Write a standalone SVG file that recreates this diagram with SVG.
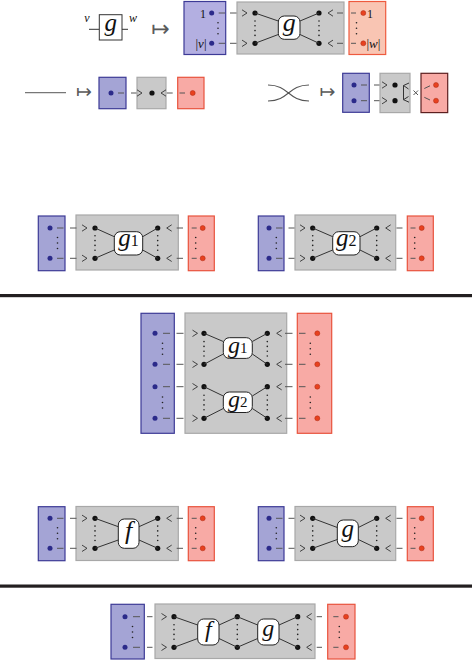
<svg xmlns="http://www.w3.org/2000/svg" xmlns:xlink="http://www.w3.org/1999/xlink" width="472" height="660" viewBox="0 0 472 660">
<style>
.bl{fill:#a4a4d5;stroke:#3c3a96;stroke-width:1.2}
.gr{fill:#c9c9c9;stroke:#a8a8a8;stroke-width:1.2}
.rd{fill:#f8aaa5;stroke:#e8533c;stroke-width:1.2}
.nd{fill:#fff;stroke:#222;stroke-width:1}
.w{fill:none;stroke:#555;stroke-width:1}
.ln{fill:none;stroke:#333;stroke-width:1}
.lb{font-family:"Liberation Serif","DejaVu Serif",serif;font-style:italic;fill:#111}
.rm{font-family:"Liberation Serif","DejaVu Serif",serif;fill:#111}
.mp{font-family:"DejaVu Sans",sans-serif;fill:#5a5a5a}
</style>
<defs>
<circle id="kd" r="2.6" fill="#111"/>
<circle id="bd" r="2.5" fill="#2b2a8a"/>
<circle id="od" r="2.5" fill="#e8411f" stroke="#a82a14" stroke-width="0.5"/>
<path id="cr" d="M-5,-3.2L0,0L-5,3.2" fill="none" stroke="#333" stroke-width="0.9"/>
<path id="cl" d="M5,-3.2L0,0L5,3.2" fill="none" stroke="#333" stroke-width="0.9"/>
<g id="v3" fill="#222"><circle cy="-5.5" r="0.8"/><circle r="0.8"/><circle cy="5.5" r="0.8"/></g>
<g id="v4" fill="#222"><circle cy="-7.2" r="0.8"/><circle cy="-2.4" r="0.8"/><circle cy="2.4" r="0.8"/><circle cy="7.2" r="0.8"/></g>
</defs>

<!-- horizontal rules -->
<rect x="0" y="294" width="472" height="3.2" fill="#231f20"/>
<rect x="0" y="584.5" width="472" height="3.2" fill="#231f20"/>

<!-- ===== Row 1: g : v -> w ===== -->
<g id="A-src">
<path class="ln" d="M89,29.3H99.3M122,29.3H128"/>
<rect x="99.3" y="14.7" width="22.7" height="25.3" fill="#fff" stroke="#333" stroke-width="1"/>
<text class="lb" x="110.7" y="31" text-anchor="middle" font-size="25">g</text>
<text class="lb" x="87" y="22" text-anchor="middle" font-size="12">v</text>
<text class="lb" x="133" y="22" text-anchor="middle" font-size="12">w</text>
</g>
<text class="mp" x="160.5" y="35.5" text-anchor="middle" font-size="22">↦</text>
<g id="A-blue">
<rect x="184" y="1.5" width="41.7" height="53" fill="#b3afe1" stroke="#3c3a96" stroke-width="1.2"/>
<text class="rm" x="206" y="17.5" text-anchor="end" font-size="12">1</text>
<text class="rm" x="206.5" y="47.5" text-anchor="end" font-size="13">|<tspan font-style="italic">v</tspan>|</text>
<use xlink:href="#bd" x="211.7" y="13"/><use xlink:href="#bd" x="211.7" y="43.3"/>
<use xlink:href="#v3" x="218" y="28.2"/>
</g>
<g id="A-gray">
<rect class="gr" x="237" y="2" width="107" height="52"/>
<use xlink:href="#kd" x="255" y="13"/><use xlink:href="#kd" x="255" y="43.3"/>
<use xlink:href="#v4" x="255" y="28.2"/>
<use xlink:href="#kd" x="319" y="13"/><use xlink:href="#kd" x="319" y="43.3"/>
<use xlink:href="#v4" x="319" y="28.2"/>
</g>
<g id="A-g">
<rect class="nd" x="278.3" y="16" width="21.7" height="23.3" rx="6"/>
<text class="lb" x="289.2" y="30.5" text-anchor="middle" font-size="26">g</text>
</g>
<g id="A-red">
<rect x="349" y="1.5" width="36.7" height="53" fill="#f9c5b3" stroke="#ee5a3e" stroke-width="1.2"/>
<use xlink:href="#od" x="363.3" y="13"/><use xlink:href="#od" x="363.3" y="43.3"/>
<use xlink:href="#v3" x="356.5" y="28.2"/>
<text class="rm" x="367" y="17.5" font-size="12">1</text>
<text class="rm" x="366.5" y="47.5" font-size="13">|<tspan font-style="italic">w</tspan>|</text>
</g>

<!-- ===== Row 2 left: identity wire ===== -->
<g id="B-wire"><path d="M25,92.7H66" fill="none" stroke="#777" stroke-width="1.3"/></g>
<text class="mp" x="84" y="98.2" text-anchor="middle" font-size="19">↦</text>
<g id="B-blue">
<rect class="bl" x="99" y="77.3" width="27" height="31.4"/>
<use xlink:href="#bd" x="111" y="93"/>
</g>
<g id="B-gray">
<rect class="gr" x="137" y="77.3" width="29" height="31.4"/>
<use xlink:href="#kd" x="152" y="93"/>
</g>
<g id="B-red">
<rect class="rd" x="177.7" y="77.3" width="26.3" height="31.4"/>
<use xlink:href="#od" x="192.7" y="93"/>
</g>

<!-- ===== Row 2 right: swap ===== -->
<g id="C-swap"><path d="M268,85C289,85 288,101 309,101M268,101C289,101 288,85 309,85" fill="none" stroke="#555" stroke-width="1.1"/></g>
<text class="mp" x="327.5" y="97.5" text-anchor="middle" font-size="19">↦</text>
<g id="C-blue">
<rect class="bl" x="342.7" y="73.3" width="26.6" height="39"/>
<use xlink:href="#bd" x="354" y="85"/><use xlink:href="#bd" x="354" y="100.7"/>
</g>
<g id="C-gray">
<rect class="gr" x="380" y="73.3" width="30" height="39.3"/>
<use xlink:href="#kd" x="395" y="85"/><use xlink:href="#kd" x="395" y="100.7"/>
</g>
<g id="C-red">
<rect x="421" y="73.3" width="26.7" height="39.3" fill="#f8aaa5" stroke="#5c1f1f" stroke-width="1.2"/>
<use xlink:href="#od" x="436" y="85"/><use xlink:href="#od" x="436" y="100.7"/>
</g>

<!-- ===== Row 3: g1 and g2 ===== -->
<g id="D1-blue">
<rect class="bl" x="38.3" y="216" width="26.7" height="54.7"/>
<use xlink:href="#bd" x="50" y="228"/><use xlink:href="#bd" x="50" y="258.3"/>
<use xlink:href="#v3" x="57.5" y="243"/>
</g>
<g id="D1-gray">
<rect class="gr" x="76" y="215" width="102.3" height="55"/>
<use xlink:href="#kd" x="95" y="228"/><use xlink:href="#kd" x="95" y="258.3"/>
<use xlink:href="#v4" x="95" y="243"/>
<use xlink:href="#kd" x="157.7" y="228"/><use xlink:href="#kd" x="157.7" y="258.3"/>
<use xlink:href="#v4" x="157.7" y="243"/>
</g>
<g id="D1-g1">
<rect class="nd" x="114.3" y="231.7" width="28.4" height="23.3" rx="6"/>
<text class="lb" x="128.5" y="246" text-anchor="middle" font-size="25">g<tspan font-style="normal" font-size="16">1</tspan></text>
</g>
<g id="D1-red">
<rect class="rd" x="188.3" y="216" width="26" height="54.7"/>
<use xlink:href="#od" x="202.7" y="228"/><use xlink:href="#od" x="202.7" y="258.3"/>
<use xlink:href="#v3" x="195.7" y="243"/>
</g>

<g id="D2-blue">
<rect class="bl" x="258.3" y="216" width="25.7" height="54.7"/>
<use xlink:href="#bd" x="269" y="228"/><use xlink:href="#bd" x="269" y="258.3"/>
<use xlink:href="#v3" x="276.3" y="243"/>
</g>
<g id="D2-gray">
<rect class="gr" x="295" y="215" width="100.7" height="55"/>
<use xlink:href="#kd" x="312.7" y="228"/><use xlink:href="#kd" x="312.7" y="258.3"/>
<use xlink:href="#v4" x="312.7" y="243"/>
<use xlink:href="#kd" x="376.7" y="228"/><use xlink:href="#kd" x="376.7" y="258.3"/>
<use xlink:href="#v4" x="376.7" y="243"/>
</g>
<g id="D2-g2">
<rect class="nd" x="332.7" y="231.7" width="27.3" height="23.3" rx="6"/>
<text class="lb" x="346.3" y="246" text-anchor="middle" font-size="25">g<tspan font-style="normal" font-size="16">2</tspan></text>
</g>
<g id="D2-red">
<rect class="rd" x="407.3" y="216" width="26" height="54.7"/>
<use xlink:href="#od" x="421.7" y="228"/><use xlink:href="#od" x="421.7" y="258.3"/>
<use xlink:href="#v3" x="414.7" y="243"/>
</g>

<!-- ===== Middle: tensor g1 g2 ===== -->
<g id="E-blue">
<rect class="bl" x="141" y="313.3" width="33.3" height="120"/>
<use xlink:href="#bd" x="155" y="333.3"/><use xlink:href="#bd" x="155" y="364.3"/>
<use xlink:href="#bd" x="155" y="386.7"/><use xlink:href="#bd" x="155" y="418.3"/>
<use xlink:href="#v3" x="162.5" y="348.8"/><use xlink:href="#v3" x="162.5" y="402.5"/>
</g>
<g id="E-gray">
<rect class="gr" x="185" y="313" width="101.7" height="120.3"/>
<use xlink:href="#kd" x="204" y="333.3"/><use xlink:href="#kd" x="204" y="364.3"/>
<use xlink:href="#kd" x="204" y="386.7"/><use xlink:href="#kd" x="204" y="418.3"/>
<use xlink:href="#v4" x="204" y="348.8"/><use xlink:href="#v4" x="204" y="402.5"/>
<use xlink:href="#kd" x="267.3" y="333.3"/><use xlink:href="#kd" x="267.3" y="364.3"/>
<use xlink:href="#kd" x="267.3" y="386.7"/><use xlink:href="#kd" x="267.3" y="418.3"/>
<use xlink:href="#v4" x="267.3" y="348.8"/><use xlink:href="#v4" x="267.3" y="402.5"/>
</g>
<g id="E-g1">
<rect class="nd" x="223.3" y="337.7" width="29" height="20.7" rx="6"/>
<text class="lb" x="237.8" y="352.5" text-anchor="middle" font-size="24">g<tspan font-style="normal" font-size="15">1</tspan></text>
</g>
<g id="E-g2">
<rect class="nd" x="223.3" y="392" width="29" height="20.5" rx="6"/>
<text class="lb" x="237.8" y="406.5" text-anchor="middle" font-size="24">g<tspan font-style="normal" font-size="15">2</tspan></text>
</g>
<g id="E-red">
<rect class="rd" x="297.3" y="313.3" width="34.4" height="120"/>
<use xlink:href="#od" x="317.3" y="333.3"/><use xlink:href="#od" x="317.3" y="364.3"/>
<use xlink:href="#od" x="317.3" y="386.7"/><use xlink:href="#od" x="317.3" y="418.3"/>
<use xlink:href="#v3" x="310.3" y="348.8"/><use xlink:href="#v3" x="310.3" y="402.5"/>
</g>

<!-- ===== Row 4: f and g ===== -->
<g id="F1-blue">
<rect class="bl" x="38.3" y="506.7" width="26.7" height="54"/>
<use xlink:href="#bd" x="50" y="518.3"/><use xlink:href="#bd" x="50" y="548.3"/>
<use xlink:href="#v3" x="57.5" y="533.3"/>
</g>
<g id="F1-gray">
<rect class="gr" x="76" y="506.5" width="102.3" height="54"/>
<use xlink:href="#kd" x="95" y="518.3"/><use xlink:href="#kd" x="95" y="548.3"/>
<use xlink:href="#v4" x="95" y="533.3"/>
<use xlink:href="#kd" x="157.7" y="518.3"/><use xlink:href="#kd" x="157.7" y="548.3"/>
<use xlink:href="#v4" x="157.7" y="533.3"/>
</g>
<g id="F1-f">
<rect class="nd" x="118.3" y="519" width="20.7" height="29.3" rx="6"/>
<text class="lb" x="128.7" y="538.5" text-anchor="middle" font-size="26">f</text>
</g>
<g id="F1-red">
<rect class="rd" x="188.3" y="506.7" width="26" height="54"/>
<use xlink:href="#od" x="202.7" y="518.3"/><use xlink:href="#od" x="202.7" y="548.3"/>
<use xlink:href="#v3" x="195.7" y="533.3"/>
</g>

<g id="F2-blue">
<rect class="bl" x="258.3" y="506.7" width="25.7" height="54"/>
<use xlink:href="#bd" x="269" y="518.3"/><use xlink:href="#bd" x="269" y="548.3"/>
<use xlink:href="#v3" x="276.3" y="533.3"/>
</g>
<g id="F2-gray">
<rect class="gr" x="295" y="506.5" width="100.7" height="54"/>
<use xlink:href="#kd" x="312.7" y="518.3"/><use xlink:href="#kd" x="312.7" y="548.3"/>
<use xlink:href="#v4" x="312.7" y="533.3"/>
<use xlink:href="#kd" x="376.7" y="518.3"/><use xlink:href="#kd" x="376.7" y="548.3"/>
<use xlink:href="#v4" x="376.7" y="533.3"/>
</g>
<g id="F2-g">
<rect class="nd" x="337.3" y="520" width="21" height="26.7" rx="6"/>
<text class="lb" x="347.8" y="536.5" text-anchor="middle" font-size="25">g</text>
</g>
<g id="F2-red">
<rect class="rd" x="407.3" y="506.7" width="26" height="54"/>
<use xlink:href="#od" x="421.7" y="518.3"/><use xlink:href="#od" x="421.7" y="548.3"/>
<use xlink:href="#v3" x="414.7" y="533.3"/>
</g>

<!-- ===== Bottom: composite f;g ===== -->
<g id="G-blue">
<rect class="bl" x="111" y="604.3" width="33.3" height="54.7"/>
<use xlink:href="#bd" x="125" y="616.7"/><use xlink:href="#bd" x="125" y="647.3"/>
<use xlink:href="#v3" x="132.5" y="632"/>
</g>
<g id="G-gray">
<rect class="gr" x="155" y="604" width="160" height="54.5"/>
<use xlink:href="#kd" x="174" y="616.7"/><use xlink:href="#kd" x="174" y="647.3"/>
<use xlink:href="#v4" x="174" y="632"/>
<use xlink:href="#kd" x="237.3" y="616.7"/><use xlink:href="#kd" x="237.3" y="647.3"/>
<use xlink:href="#v4" x="237.3" y="632"/>
<use xlink:href="#kd" x="297.7" y="616.7"/><use xlink:href="#kd" x="297.7" y="647.3"/>
<use xlink:href="#v4" x="297.7" y="632"/>
</g>
<g id="G-f">
<rect class="nd" x="197.7" y="619" width="21.3" height="26" rx="6"/>
<text class="lb" x="208.3" y="637" text-anchor="middle" font-size="24">f</text>
</g>
<g id="G-g">
<rect class="nd" x="257.7" y="619" width="21.3" height="26" rx="6"/>
<text class="lb" x="268.3" y="635.5" text-anchor="middle" font-size="24">g</text>
</g>
<g id="G-red">
<rect class="rd" x="327.7" y="604.3" width="27.3" height="54.7"/>
<use xlink:href="#od" x="346" y="616.7"/><use xlink:href="#od" x="346" y="647.3"/>
<use xlink:href="#v3" x="339.3" y="632"/>
</g>

<!-- ===== Connectors ===== -->
<g id="connectors">
<path class="w" d="
M218.7,13H225M218.7,43.3H225M230,13H236.5M230,43.3H236.5M337,13H343M337,43.3H343M351,13H356M351,43.3H356
M118,93H124M131,93H136.5M166.7,93H172.7M179.5,93H185
M361,85H367M361,100.7H367M374,85H379.5M374,100.7H379.5
M424.3,88.5L430,85.8M424.3,97.3L430,100M413.5,90.5L418,95M418,90.5L413.5,95
M57,228H63.5M57,258.3H63.5M70,228H76.5M70,258.3H76.5M176.7,228H183M176.7,258.3H183M191.7,228H196.7M191.7,258.3H196.7
M276,228H282.5M276,258.3H282.5M288.5,228H294.5M288.5,258.3H294.5M396.5,228H402.5M396.5,258.3H402.5M410.5,228H415.5M410.5,258.3H415.5
M163,333.3H170M163,364.3H170M163,386.7H170M163,418.3H170
M176.5,333.3H183.5M176.5,364.3H183.5M176.5,386.7H183.5M176.5,418.3H183.5
M285,333.3H292.5M285,364.3H292.5M285,386.7H292.5M285,418.3H292.5
M299,333.3H305.5M299,364.3H305.5M299,386.7H305.5M299,418.3H305.5
M57,518.3H63.5M57,548.3H63.5M70,518.3H76.5M70,548.3H76.5M176.7,518.3H183M176.7,548.3H183M191.7,518.3H196.7M191.7,548.3H196.7
M276,518.3H282.5M276,548.3H282.5M288.5,518.3H294.5M288.5,548.3H294.5M396.5,518.3H402.5M396.5,548.3H402.5M410.5,518.3H415.5M410.5,548.3H415.5
M133,616.7H140M133,647.3H140M147,616.7H152.5M147,647.3H152.5M316.7,616.7H322M316.7,647.3H322M333.3,616.7H338.5M333.3,647.3H338.5"/>
<path class="ln" stroke-width="0.9" d="M409,83L403.5,85.5L408.5,89M408.5,96.5L403.5,99.7L409,102.2M403.5,85.5V99.7"/>
<path class="ln" d="
M255,13L278.3,21M255,43.3L278.3,34.5M300,21L319,13M300,34.5L319,43.3
M95,228L114.3,236.7M95,258.3L114.3,250M142.7,236.7L157.7,228M142.7,250L157.7,258.3
M312.7,228L332.7,236.7M312.7,258.3L332.7,250M360,236.7L376.7,228M360,250L376.7,258.3
M204,333.3L223.3,341.5M204,364.3L223.3,354M252.3,341.5L267.3,333.3M252.3,354L267.3,364.3
M204,386.7L223.3,396M204,418.3L223.3,408.5M252.3,396L267.3,386.7M252.3,408.5L267.3,418.3
M95,518.3L118.3,526.7M95,548.3L118.3,540M139,526.7L157.7,518.3M139,540L157.7,548.3
M312.7,518.3L337.3,527.5M312.7,548.3L337.3,539.5M358.3,527.5L376.7,518.3M358.3,539.5L376.7,548.3
M174,616.7L197.7,625M174,647.3L197.7,638.5M219,625L237.3,616.7M219,638.5L237.3,647.3
M237.3,616.7L257.7,625M237.3,647.3L257.7,638.5M279,625L297.7,616.7M279,638.5L297.7,647.3"/>
<use xlink:href="#cr" x="247" y="13"/><use xlink:href="#cr" x="247" y="43.3"/>
<use xlink:href="#cl" x="328" y="13"/><use xlink:href="#cl" x="328" y="43.3"/>
<use xlink:href="#cr" x="142" y="93"/><use xlink:href="#cl" x="161" y="93"/>
<use xlink:href="#cr" x="387" y="85"/><use xlink:href="#cr" x="387" y="100.7"/>
<use xlink:href="#cr" x="87" y="228"/><use xlink:href="#cr" x="87" y="258.3"/>
<use xlink:href="#cl" x="166.7" y="228"/><use xlink:href="#cl" x="166.7" y="258.3"/>
<use xlink:href="#cr" x="305" y="228"/><use xlink:href="#cr" x="305" y="258.3"/>
<use xlink:href="#cl" x="385.7" y="228"/><use xlink:href="#cl" x="385.7" y="258.3"/>
<use xlink:href="#cr" x="197.5" y="333.3"/><use xlink:href="#cr" x="197.5" y="364.3"/>
<use xlink:href="#cr" x="197.5" y="386.7"/><use xlink:href="#cr" x="197.5" y="418.3"/>
<use xlink:href="#cl" x="276.7" y="333.3"/><use xlink:href="#cl" x="276.7" y="364.3"/>
<use xlink:href="#cl" x="276.7" y="386.7"/><use xlink:href="#cl" x="276.7" y="418.3"/>
<use xlink:href="#cr" x="87" y="518.3"/><use xlink:href="#cr" x="87" y="548.3"/>
<use xlink:href="#cl" x="166.7" y="518.3"/><use xlink:href="#cl" x="166.7" y="548.3"/>
<use xlink:href="#cr" x="305" y="518.3"/><use xlink:href="#cr" x="305" y="548.3"/>
<use xlink:href="#cl" x="385.7" y="518.3"/><use xlink:href="#cl" x="385.7" y="548.3"/>
<use xlink:href="#cr" x="166.5" y="616.7"/><use xlink:href="#cr" x="166.5" y="647.3"/>
<use xlink:href="#cl" x="306.7" y="616.7"/><use xlink:href="#cl" x="306.7" y="647.3"/>
</g>
</svg>
